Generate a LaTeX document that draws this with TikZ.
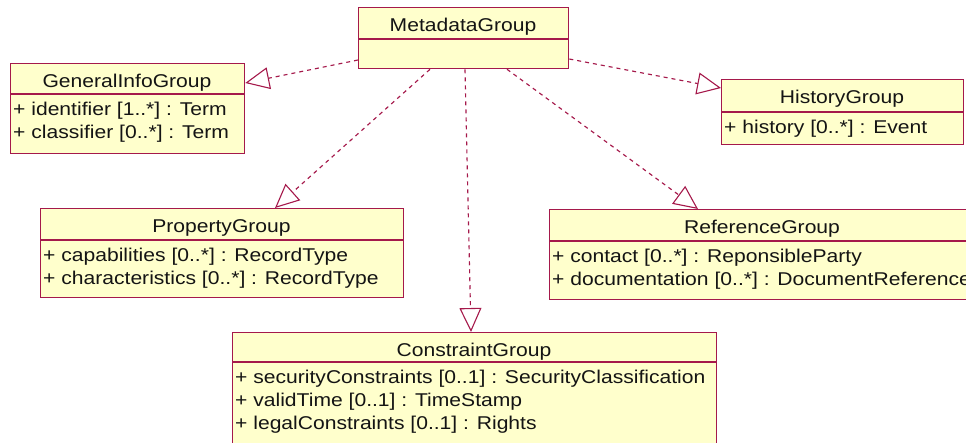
\documentclass[tikz,border=0pt]{standalone}
\usepackage{fontspec}
\setmainfont{Liberation Sans}[FakeStretch=1.14]
\usetikzlibrary{arrows.meta,calc}
\definecolor{umlred}{RGB}{165,25,75}
\definecolor{umlfill}{RGB}{255,255,204}
\definecolor{umltext}{RGB}{20,20,20}
\begin{document}
\begin{tikzpicture}[x=1pt,y=-1pt,
  cls/.style={draw=umlred, fill=umlfill, line width=1.3pt, anchor=north west, inner sep=0pt, rectangle},
  ttl/.style={anchor=base, inner sep=0pt, text=umltext, font=\fontsize{18.5}{23}\selectfont},
  att/.style={anchor=base west, inner sep=0pt, text=umltext, font=\fontsize{18.5}{23}\selectfont},
  sep/.style={draw=umlred, line width=1.3pt},
  real/.style={draw=umlred, line width=1.15pt, dash pattern=on 4pt off 4pt,
    -{Triangle[open, length=24pt, width=22pt, line width=1.1pt]}}]
\useasboundingbox (0,0) rectangle (966,442);
\clip (0,0) rectangle (966,442);
% classes
\node[cls, minimum width=210pt, minimum height=61pt] (meta) at (358,7) {};
\draw[sep] ($(meta.north west)+(0,32)$) -- ($(meta.north east)+(0,32)$);
\node[ttl] (metaT) at (463,31) {MetadataGroup};

\node[cls, minimum width=234pt, minimum height=90pt] (gen) at (10,63) {};
\draw[sep] ($(gen.north west)+(0,31)$) -- ($(gen.north east)+(0,31)$);
\node[ttl] (genT) at (127,87) {GeneralInfoGroup};
\node[att] (genA1) at (13,115) {+ identifier [1..*] : Term};
\node[att] (genA2) at (13,138) {+ classifier [0..*] : Term};

\node[cls, minimum width=242pt, minimum height=65pt] (hist) at (721,79) {};
\draw[sep] ($(hist.north west)+(0,33)$) -- ($(hist.north east)+(0,33)$);
\node[ttl] (histT) at (842,103) {HistoryGroup};
\node[att] (histA1) at (724,133) {+ history [0..*] : Event};

\node[cls, minimum width=363pt, minimum height=89pt] (prop) at (40,208) {};
\draw[sep] ($(prop.north west)+(0,32)$) -- ($(prop.north east)+(0,32)$);
\node[ttl] (propT) at (221.5,232) {PropertyGroup};
\node[att] (propA1) at (43,261) {+ capabilities [0..*] : RecordType};
\node[att] (propA2) at (43,284) {+ characteristics [0..*] : RecordType};

\node[cls, minimum width=426pt, minimum height=90pt] (ref) at (549,209) {};
\draw[sep] ($(ref.north west)+(0,32)$) -- ($(ref.north east)+(0,32)$);
\node[ttl] (refT) at (762,233) {ReferenceGroup};
\node[att] (refA1) at (552,262) {+ contact [0..*] : ReponsibleParty};
\node[att] (refA2) at (552,285) {+ documentation [0..*] : DocumentReference};

\node[cls, minimum width=484pt, minimum height=130pt] (cons) at (232,332) {};
\draw[sep] ($(cons.north west)+(0,30)$) -- ($(cons.north east)+(0,30)$);
\node[ttl] (consT) at (474,356) {ConstraintGroup};
\node[att] (consA1) at (235,383) {+ securityConstraints [0..1] : SecurityClassification};
\node[att] (consA2) at (235,406) {+ validTime [0..1] : TimeStamp};
\node[att] (consA3) at (235,429) {+ legalConstraints [0..1] : Rights};

% realizations
\draw[real] ($(meta.north west)+(0,53)$) -- ($(gen.north east)+(0,20)$);
\draw[real] ($(meta.north east)+(0,52)$) -- ($(hist.north west)+(0,9)$);
\draw[real] ($(meta.south west)+(72,0)$) -- ($(prop.north west)+(235,0)$);
\draw[real] ($(meta.south west)+(107,0)$) -- ($(cons.north west)+(239,0)$);
\draw[real] ($(meta.south west)+(149,0)$) -- ($(ref.north west)+(149,0)$);
\end{tikzpicture}
\end{document}
